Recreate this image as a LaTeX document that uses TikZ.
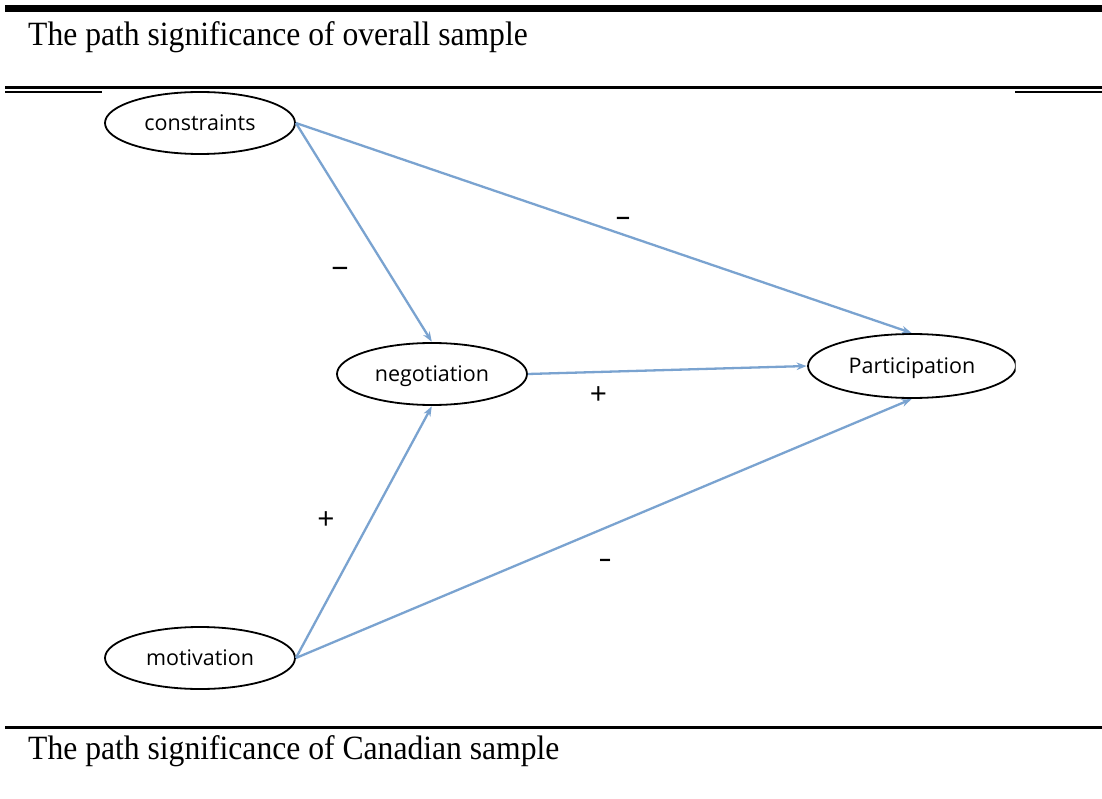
\documentclass[tikz,border=0pt]{standalone}
\usepackage{fontspec}
\setmainfont{Liberation Serif}
\newfontfamily\labelfont{Open Sans}
\usetikzlibrary{arrows.meta,shapes.geometric}
\definecolor{pathblue}{RGB}{122,163,208}
\newcommand{\widedash}[1]{\scalebox{#1}[1]{-}}
\begin{document}
\begin{tikzpicture}[x=1pt,y=-1pt,
  construct/.style={draw=black,line width=1.8pt,ellipse,minimum width=#1,minimum height=62pt,inner sep=0pt,
    text height=15pt,text depth=0pt,font=\labelfont\fontsize{21.5}{24}\selectfont},
  construct/.default=190pt,
  pathline/.style={draw=pathblue,line width=2.3pt,-{Stealth[length=10pt,width=7.5pt]},shorten >=0.5pt},
  sign/.style={font=\labelfont\fontsize{30}{32}\selectfont,inner sep=0pt},
  caption/.style={anchor=base west,inner sep=0pt,font=\fontsize{34}{40}\selectfont}]
\useasboundingbox[fill=white] (0,0) rectangle (1102,799);
% table rules
\fill[black] (5,5) rectangle (1102,12);
\fill[black] (5,86) rectangle (1102,89.5);
\fill[black] (5,91.5) rectangle (1102,93);
\fill[black] (5,726) rectangle (1102,729);
% captions
\node[caption] (cap1) at (28,46) {\scalebox{0.93}[1]{The path significance of overall sample}};
\node[caption] (cap2) at (28,759) {\scalebox{0.93}[1]{The path significance of Canadian sample}};
% figure area
\fill[white] (102,90.5) rectangle (1015,700);
\node[construct] (con) at (200,123) {constraints};
\node[construct] (neg) at (432,374) {negotiation};
\node[construct] (mot) at (200,658) {motivation};
\begin{scope}
\clip (102,90) rectangle (1015.5,700);
\node[construct=208pt,minimum height=64pt] (par) at (912,366) {Participation};
\end{scope}
% paths
\draw[pathline] (con.east) -- (neg.north);
\draw[pathline] (con.east) -- (par.north);
\draw[pathline] (neg.east) -- (par.west);
\draw[pathline] (mot.east) -- (neg.south);
\draw[pathline] (mot.east) -- (par.south);
% signs
\node[sign] (s1) at (340,272) {\widedash{2}};
\node[sign] (s2) at (623,222) {\widedash{1.7}};
\node[sign] (s3) at (598.5,396) {+};
\node[sign] (s4) at (326,521) {+};
\node[sign] (s5) at (605,564) {\widedash{1.4}};
\end{tikzpicture}
\end{document}
